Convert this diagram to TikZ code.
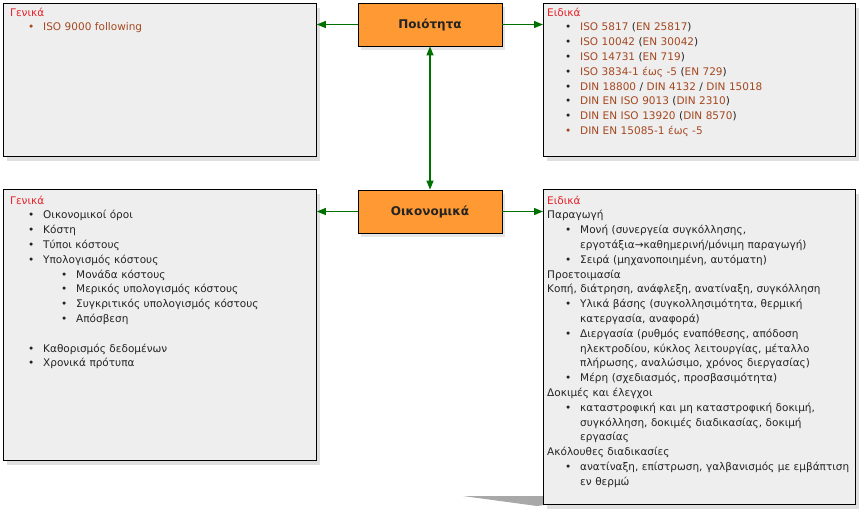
\documentclass[tikz,border=0pt]{standalone}
\usepackage{fontspec}
\setmainfont{DejaVu Sans}
\usetikzlibrary{arrows.meta,shadows,positioning}
\definecolor{boxGrey}{RGB}{238,238,238}
\definecolor{topicOrange}{RGB}{255,153,51}
\definecolor{linkGreen}{RGB}{0,112,0}
\definecolor{headRed}{RGB}{232,32,40}
\definecolor{linkBrown}{RGB}{165,72,32}
\definecolor{bodyDark}{RGB}{35,35,35}
\definecolor{wedgeGrey}{RGB}{168,168,168}
\newcommand{\lk}[1]{\textcolor{linkBrown}{#1}}
\newcommand{\hd}[1]{\textcolor{headRed}{#1}\par}
\newcommand{\bodyfont}{\fontsize{10.5}{14.8}\selectfont\setlength\parindent{0pt}\setlength\parskip{0pt}}
\newenvironment{blist}{\begin{list}{\textbullet}{%
  \setlength\leftmargin{33pt}\setlength\labelsep{9pt}\setlength\labelwidth{24pt}%
  \setlength\itemsep{0pt}\setlength\parsep{0pt}\setlength\topsep{0pt}\setlength\partopsep{0pt}}}%
  {\end{list}}

\begin{document}
\begin{tikzpicture}[x=1pt,y=-1pt,
  infobox/.style={rectangle,draw=black,line width=0.8pt,fill=boxGrey,anchor=north west,
                  drop shadow={shadow xshift=4pt,shadow yshift=-5pt,opacity=0.25}},
  topic/.style={rectangle,draw=black,line width=0.8pt,fill=topicOrange,
                minimum width=144pt,minimum height=43pt,text=bodyDark,
                font=\bfseries\fontsize{12}{14}\selectfont,
                drop shadow={shadow xshift=3pt,shadow yshift=-4pt,opacity=0.2}},
  txt/.style={anchor=north west,inner sep=0pt,text width=330pt,align=left,
              text=bodyDark,font=\bodyfont},
  arr/.style={-{Triangle[length=9pt,width=7pt]},draw=linkGreen,line width=1.2pt},
  darr/.style={{Triangle[length=9pt,width=7pt]}-{Triangle[length=9pt,width=7pt]},
               draw=linkGreen,line width=1.2pt}
]
  \useasboundingbox (0,0) rectangle (861,514);
  % grey wedge partly hidden behind the lower right box
  \fill[wedgeGrey] (463,496) -- (611,496) -- (537,506) -- cycle;

  \node[infobox,minimum width=313pt,minimum height=153pt](genq) at (3,3)   {};
  \node[infobox,minimum width=312pt,minimum height=153pt](spcq) at (543,3) {};
  \node[infobox,minimum width=313pt,minimum height=271pt](gene) at (3,189) {};
  \node[infobox,minimum width=312pt,minimum height=315pt](spce) at (543,189){};

  \node[topic](quality) at (430,24.5)  {Ποιότητα};
  \node[topic](economy) at (430,211.5) {Οικονομικά};

  \node[txt](genqtxt) at (10,5.6) {\strut\hd{Γενικά}
    \begin{blist}
      \item[\lk{\textbullet}] \lk{ISO 9000 following}
    \end{blist}};
  \node[txt](spcqtxt) at (547,5.6) {\strut\hd{Ειδικά}
    \begin{blist}
      \item \lk{ISO 5817} (\lk{EN 25817})
      \item \lk{ISO 10042} (\lk{EN 30042})
      \item \lk{ISO 14731} (\lk{EN 719})
      \item \lk{ISO 3834-1 έως -5} (\lk{EN 729})
      \item \lk{DIN 18800} / \lk{DIN 4132} / \lk{DIN 15018}
      \item \lk{DIN EN ISO 9013} (\lk{DIN 2310})
      \item \lk{DIN EN ISO 13920} (\lk{DIN 8570})
      \item[\lk{\textbullet}] \lk{DIN EN 15085-1 έως -5}
    \end{blist}};
  \node[txt](genetxt) at (10,193.6) {\strut\hd{Γενικά}
    \begin{blist}
      \item Οικονομικοί όροι
      \item Κόστη
      \item Τύποι κόστους
      \item Υπολογισμός κόστους
      \begin{blist}
        \item Μονάδα κόστους
        \item Μερικός υπολογισμός κόστους
        \item Συγκριτικός υπολογισμός κόστους
        \item Απόσβεση
      \end{blist}
      \item[] \mbox{}
      \item Καθορισμός δεδομένων
      \item Χρονικά πρότυπα
    \end{blist}};
  \node[txt](spcetxt) at (547,193.6) {\strut\hd{Ειδικά}
    Παραγωγή
    \begin{blist}
      \item Μονή (συνεργεία συγκόλλησης,\\ εργοτάξια→καθημερινή/μόνιμη παραγωγή)
      \item Σειρά (μηχανοποιημένη, αυτόματη)
    \end{blist}
    Προετοιμασία\par
    Κοπή, διάτρηση, ανάφλεξη, ανατίναξη, συγκόλληση
    \begin{blist}
      \item Υλικά βάσης (συγκολλησιμότητα, θερμική\\ κατεργασία, αναφορά)
      \item Διεργασία (ρυθμός εναπόθεσης, απόδοση\\ ηλεκτροδίου, κύκλος λειτουργίας, μέταλλο\\ πλήρωσης, αναλώσιμο, χρόνος διεργασίας)
      \item Μέρη (σχεδιασμός, προσβασιμότητα)
    \end{blist}
    Δοκιμές και έλεγχοι
    \begin{blist}
      \item καταστροφική και μη καταστροφική δοκιμή,\\ συγκόλληση, δοκιμές διαδικασίας, δοκιμή\\ εργασίας
    \end{blist}
    Ακόλουθες διαδικασίες
    \begin{blist}
      \item ανατίναξη, επίστρωση, γαλβανισμός με εμβάπτιση\\ εν θερμώ
    \end{blist}};

  \draw[arr](quality.west)--(quality.west -| genq.east);
  \draw[arr](quality.east)--(quality.east -| spcq.west);
  \draw[darr](quality.south)--(economy.north);
  \draw[arr](economy.west)--(economy.west -| gene.east);
  \draw[arr](economy.east)--(economy.east -| spce.west);
\end{tikzpicture}
\end{document}
